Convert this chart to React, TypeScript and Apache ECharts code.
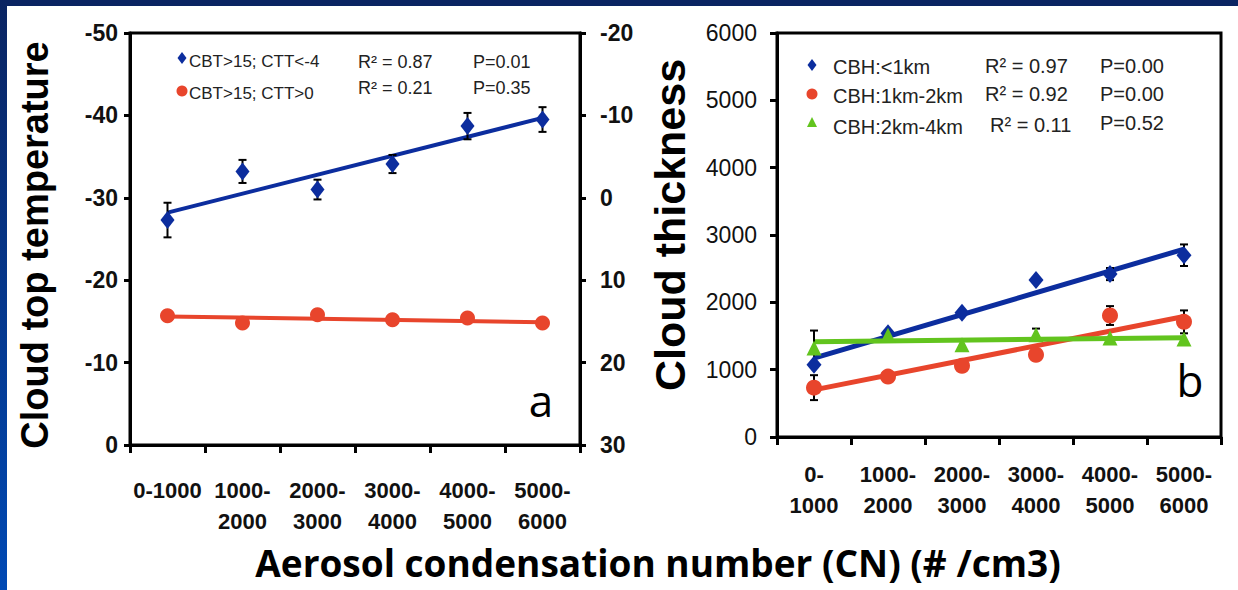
import React, { useEffect, useRef } from "react";
import * as echarts from "echarts";

// ---------- data ----------
const catsA = ["0-1000", "1000-\n2000", "2000-\n3000", "3000-\n4000", "4000-\n5000", "5000-\n6000"];
const catsB = ["0-\n1000", "1000-\n2000", "2000-\n3000", "3000-\n4000", "4000-\n5000", "5000-\n6000"];

const tempBlue = [-27.3, -33.2, -31.0, -34.1, -38.7, -39.5];
const tempBlueErr = [2.1, 1.4, 1.2, 1.1, 1.6, 1.5];
const tempRed = [-15.7, -14.8, -15.8, -15.2, -15.4, -14.8];
const tempBlueTrend = [-28.2, -39.7];
const tempRedTrend = [-15.6, -14.9];

const thickBlue = [1072, 1540, 1845, 2332, 2420, 2700];
const thickBlueErr = [0, 0, 0, 0, 90, 160];
const thickRed = [733, 897, 1057, 1221, 1804, 1710];
const thickRedErr = [185, 0, 0, 0, 140, 170];
const thickGreen = [1321, 1510, 1371, 1520, 1471, 1456];
const thickGreenErr = [260, 0, 0, 90, 0, 0];
const thickBlueTrend = [1170, 2790];
const thickRedTrend = [700, 1790];
const thickGreenTrend = [1415, 1475];

const legendA = ["CBT>15; CTT<-4", "CBT>15; CTT>0"];
const statsA = [["R² = 0.87", "P=0.01"], ["R² = 0.21", "P=0.35"]];
const legendB = ["CBH:<1km", "CBH:1km-2km", "CBH:2km-4km"];
const statsB = [["R² = 0.97", "P=0.00"], ["R² = 0.92", "P=0.00"], ["R² = 0.11", "P=0.52"]];

const BLUE = "#0c2d9e";
const RED = "#e8452c";
const GREEN = "#62c41e";
const FONT = '"Liberation Sans", Arial, sans-serif';

function trendData(t: number[]) {
  return [t[0], "-", "-", "-", "-", t[1]];
}

function errSeries(vals: number[], errs: number[], xi: number, yi: number) {
  return {
    type: "custom",
    xAxisIndex: xi,
    yAxisIndex: yi,
    z: 3,
    silent: true,
    encode: { x: 0, y: 1 },
    data: vals.map((v, i) => [i, v, errs[i]]),
    renderItem: (params: any, api: any) => {
      const idx = api.value(0);
      const v = api.value(1);
      const e = api.value(2);
      if (!e) return { type: "group", children: [] };
      const top = api.coord([idx, v - e]);
      const bot = api.coord([idx, v + e]);
      const hw = 4;
      const st = { stroke: "#000", lineWidth: 2 };
      return {
        type: "group",
        children: [
          { type: "line", shape: { x1: top[0], y1: top[1], x2: bot[0], y2: bot[1] }, style: st },
          { type: "line", shape: { x1: top[0] - hw, y1: top[1], x2: top[0] + hw, y2: top[1] }, style: st },
          { type: "line", shape: { x1: bot[0] - hw, y1: bot[1], x2: bot[0] + hw, y2: bot[1] }, style: st },
        ],
      };
    },
  };
}

function txt(text: string, x: number, y: number, size: number, opts: any = {}) {
  return {
    type: "text",
    x,
    y,
    rotation: opts.rotation || 0,
    z: 10,
    style: {
      text,
      fill: opts.color || "#222",
      font: `${opts.weight || "normal"} ${size}px ${opts.family || FONT}`,
      textAlign: opts.align || "left",
      textVerticalAlign: "middle",
      align: opts.align || "left",
      verticalAlign: "middle",
    },
  };
}

function diamond(cx: number, cy: number, w: number, h: number, color: string) {
  return {
    type: "polygon",
    z: 10,
    shape: { points: [[cx, cy - h / 2], [cx + w / 2, cy], [cx, cy + h / 2], [cx - w / 2, cy]] },
    style: { fill: color },
  };
}

export default function App() {
  const ref = useRef<HTMLDivElement>(null);
  useEffect(() => {
    if (!ref.current) return;
    const chart = echarts.init(ref.current, null, { renderer: "svg" });

    const axisLine = { show: true, lineStyle: { color: "#000", width: 3 } };
    const yLabelBold = { color: "#111", fontFamily: FONT, fontWeight: "bold", fontSize: 23 };
    const xLabel = {
      interval: 0,
      color: "#111",
      fontFamily: FONT,
      fontWeight: "bold",
      fontSize: 22,
      lineHeight: 31,
      verticalAlign: "top",
    };

    const graphic: any[] = [
      {
        type: "rect",
        z: -1,
        shape: { x: 0, y: 0, width: 1238, height: 6 },
        style: { fill: "#0a2462" },
      },
      {
        type: "rect",
        z: -1,
        shape: { x: 0, y: 0, width: 7, height: 590 },
        style: {
          fill: new echarts.graphic.LinearGradient(0, 0, 0, 1, [
            { offset: 0, color: "#0a2462" },
            { offset: 1, color: "#0049b4" },
          ]),
        },
      },
      // axis titles
      txt("Cloud top temperature", 35, 245, 38, { weight: "bold", rotation: Math.PI / 2, align: "center", color: "#000" }),
      txt("Cloud thickness", 670, 225, 43, { weight: "bold", rotation: Math.PI / 2, align: "center", color: "#000" }),
      txt("Aerosol condensation number (CN) (# /cm3)", 658, 562, 37, {
        weight: "bold",
        align: "center",
        color: "#000",
        family: '"Open Sans", "Liberation Sans", sans-serif',
      }),
      txt("a", 541, 400, 44, { align: "center", color: "#000", family: '"Open Sans", sans-serif' }),
      txt("b", 1190, 380, 44, { align: "center", color: "#000", family: '"Open Sans", sans-serif' }),
      // legend A
      diamond(182, 58, 9, 12, BLUE),
      { type: "circle", z: 10, shape: { cx: 182, cy: 91, r: 5.5 }, style: { fill: RED } },
      txt(legendA[0], 189, 61, 17),
      txt(legendA[1], 189, 93, 17),
      txt(statsA[0][0], 358, 62, 18),
      txt(statsA[0][1], 473, 62, 18),
      txt(statsA[1][0], 358, 88, 18),
      txt(statsA[1][1], 473, 88, 18),
      // legend B
      diamond(812, 65, 9, 12, BLUE),
      { type: "circle", z: 10, shape: { cx: 812, cy: 94, r: 5.5 }, style: { fill: RED } },
      {
        type: "polygon",
        z: 10,
        shape: { points: [[812, 117], [817, 127], [807, 127]] },
        style: { fill: GREEN },
      },
      txt(legendB[0], 833, 67, 20),
      txt(legendB[1], 833, 96, 20),
      txt(legendB[2], 833, 127, 20),
      txt(statsB[0][0], 985, 66, 20),
      txt(statsB[0][1], 1100, 66, 20),
      txt(statsB[1][0], 985, 94, 20),
      txt(statsB[1][1], 1100, 94, 20),
      txt(statsB[2][0], 990, 125, 20),
      txt(statsB[2][1], 1100, 123, 20),
    ];

    const option: any = {
      animation: false,
      backgroundColor: "#fff",
      graphic,
      grid: [
        { left: 130, top: 33, width: 450, height: 412, show: true, borderColor: "#000", borderWidth: 3, backgroundColor: "transparent" },
        { left: 777, top: 33, width: 444, height: 404, show: true, borderColor: "#000", borderWidth: 3, backgroundColor: "transparent" },
      ],
      xAxis: [
        {
          gridIndex: 0,
          type: "category",
          data: catsA,
          axisLine,
          axisTick: { show: true, length: 8, lineStyle: { color: "#000", width: 3 } },
          axisLabel: { ...xLabel, margin: 30 },
          splitLine: { show: false },
        },
        {
          gridIndex: 1,
          type: "category",
          data: catsB,
          axisLine,
          axisTick: { show: true, length: 8, lineStyle: { color: "#000", width: 3 } },
          axisLabel: { ...xLabel, margin: 22 },
          splitLine: { show: false },
        },
      ],
      yAxis: [
        {
          gridIndex: 0,
          type: "value",
          min: -50,
          max: 0,
          interval: 10,
          inverse: true,
          position: "left",
          axisLine,
          axisTick: { show: true, length: 6, lineStyle: { color: "#000", width: 3 } },
          axisLabel: { ...yLabelBold, margin: 12 },
          splitLine: { show: false },
        },
        {
          gridIndex: 0,
          type: "value",
          min: -20,
          max: 30,
          interval: 10,
          inverse: true,
          position: "right",
          axisLine,
          axisTick: { show: true, length: 6, lineStyle: { color: "#000", width: 3 } },
          axisLabel: { ...yLabelBold, margin: 20 },
          splitLine: { show: false },
        },
        {
          gridIndex: 1,
          type: "value",
          min: 0,
          max: 6000,
          interval: 1000,
          position: "left",
          axisLine,
          axisTick: { show: true, length: 7, lineStyle: { color: "#000", width: 3 } },
          axisLabel: { color: "#111", fontFamily: FONT, fontSize: 23, margin: 20, formatter: (v: number) => String(v) },
          splitLine: { show: false },
        },
      ],
      series: [
        // panel a
        { type: "line", xAxisIndex: 0, yAxisIndex: 0, data: trendData(tempBlueTrend), connectNulls: true, symbol: "none", lineStyle: { color: BLUE, width: 4 }, z: 2, silent: true },
        { type: "line", xAxisIndex: 0, yAxisIndex: 0, data: trendData(tempRedTrend), connectNulls: true, symbol: "none", lineStyle: { color: RED, width: 4 }, z: 2, silent: true },
        errSeries(tempBlue, tempBlueErr, 0, 0),
        { type: "scatter", name: legendA[0], xAxisIndex: 0, yAxisIndex: 0, data: tempBlue, symbol: "diamond", symbolSize: [14, 18], itemStyle: { color: BLUE, opacity: 1 }, z: 4 },
        { type: "scatter", name: legendA[1], xAxisIndex: 0, yAxisIndex: 0, data: tempRed, symbol: "circle", symbolSize: 15, itemStyle: { color: RED, opacity: 1 }, z: 4 },
        // panel b
        { type: "line", xAxisIndex: 1, yAxisIndex: 2, data: trendData(thickBlueTrend), connectNulls: true, symbol: "none", lineStyle: { color: BLUE, width: 5 }, z: 2, silent: true },
        { type: "line", xAxisIndex: 1, yAxisIndex: 2, data: trendData(thickRedTrend), connectNulls: true, symbol: "none", lineStyle: { color: RED, width: 5 }, z: 2, silent: true },
        { type: "line", xAxisIndex: 1, yAxisIndex: 2, data: trendData(thickGreenTrend), connectNulls: true, symbol: "none", lineStyle: { color: GREEN, width: 5 }, z: 2, silent: true },
        errSeries(thickBlue, thickBlueErr, 1, 2),
        errSeries(thickRed, thickRedErr, 1, 2),
        errSeries(thickGreen, thickGreenErr, 1, 2),
        { type: "scatter", name: legendB[0], xAxisIndex: 1, yAxisIndex: 2, data: thickBlue, symbol: "diamond", symbolSize: [15, 18], itemStyle: { color: BLUE, opacity: 1 }, z: 4 },
        { type: "scatter", name: legendB[1], xAxisIndex: 1, yAxisIndex: 2, data: thickRed, symbol: "circle", symbolSize: 16, itemStyle: { color: RED, opacity: 1 }, z: 4 },
        { type: "scatter", name: legendB[2], xAxisIndex: 1, yAxisIndex: 2, data: thickGreen, symbol: "triangle", symbolSize: 15, itemStyle: { color: GREEN, opacity: 1 }, z: 4 },
      ],
    };
    chart.setOption(option);
    return () => chart.dispose();
  }, []);

  return (
    <div
      ref={ref}
      style={{ position: "fixed", left: 0, top: 0, width: 1238, height: 590, background: "#fff" }}
    />
  );
}
